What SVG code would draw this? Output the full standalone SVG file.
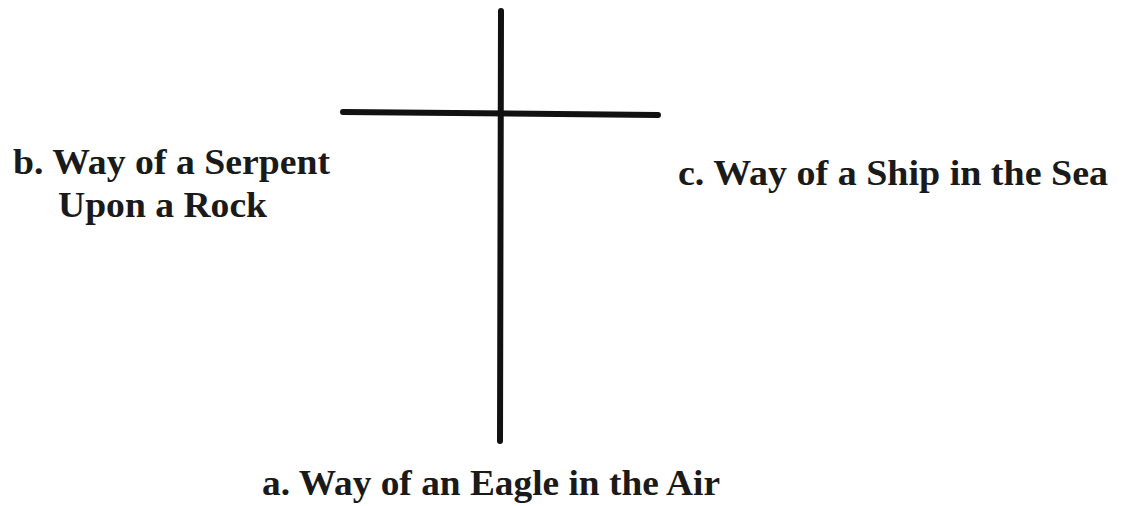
<svg xmlns="http://www.w3.org/2000/svg" width="1121" height="506" viewBox="0 0 1121 506">
<style>
.lbl{font-family:"Liberation Serif","Times New Roman",serif;font-weight:bold;font-size:35px;fill:#1a1a1a}
.bar{stroke:#111;stroke-width:6;stroke-linecap:round;fill:none}
</style>
<rect width="1121" height="506" fill="#fff"/>
<g id="connectors">
<line class="bar" x1="501" y1="11" x2="500" y2="441"/>
<line class="bar" x1="343" y1="112" x2="658" y2="115"/>
</g>
<g id="node-b">
<text class="lbl" x="13" y="174" textLength="317" lengthAdjust="spacingAndGlyphs">b. Way of a Serpent</text>
<text class="lbl" x="58" y="217" textLength="209" lengthAdjust="spacingAndGlyphs">Upon a Rock</text>
</g>
<g id="node-c">
<text class="lbl" x="678" y="185" textLength="430" lengthAdjust="spacingAndGlyphs">c. Way of a Ship in the Sea</text>
</g>
<g id="node-a">
<text class="lbl" x="262" y="495" textLength="458" lengthAdjust="spacingAndGlyphs">a. Way of an Eagle in the Air</text>
</g>
</svg>
